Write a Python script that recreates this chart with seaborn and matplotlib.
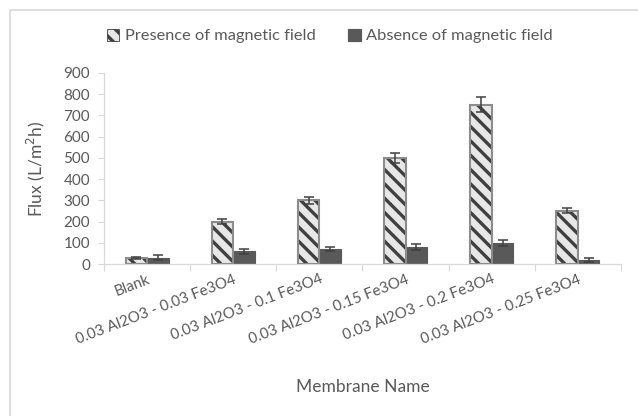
import matplotlib
matplotlib.use("Agg")
import matplotlib.pyplot as plt
from matplotlib.patches import Patch, Rectangle
import seaborn as sns
import pandas as pd
import numpy as np

# Membrane flux data
membranes = ["Blank",
             "0.03 Al2O3 - 0.03 Fe3O4",
             "0.03 Al2O3 - 0.1 Fe3O4",
             "0.03 Al2O3 - 0.15 Fe3O4",
             "0.03 Al2O3 - 0.2 Fe3O4",
             "0.03 Al2O3 - 0.25 Fe3O4"]
series_names = ["Presence of magnetic field", "Absence of magnetic field"]
presence = [27, 200, 300, 500, 750, 250]
presence_err = [5, 10, 15, 22, 35, 12]
absence = [30, 60, 70, 80, 100, 20]
absence_err = [12, 12, 10, 12, 14, 10]
y_ticks = [0, 100, 200, 300, 400, 500, 600, 700, 800, 900]

df = pd.DataFrame({
    "Membrane": membranes * 2,
    "Series": [series_names[0]] * len(membranes) + [series_names[1]] * len(membranes),
    "Flux": presence + absence,
})

# rendering at 86 dpi makes the hatch stripes a little tighter;
# S keeps point-based sizes equivalent to a 100 dpi layout
DPI = 86
S = 100 / DPI

sns.set_theme(style="white")
plt.rcParams["font.family"] = ["Lato", "DejaVu Sans"]
plt.rcParams["hatch.linewidth"] = 2.4 * S

TXT = "#595959"
AXIS = "#d9d9d9"
LIGHT = "#e7e7e7"
DARK = "#595959"
STRIPE = "#404040"
EDGE = "#8c8c8c"

fig = plt.figure(figsize=(638 / DPI, 416 / DPI), dpi=DPI)
ax = fig.add_axes([104 / 638, 1 - 264 / 416, (621 - 104) / 638, (264 - 73) / 416])

sns.barplot(data=df, x="Membrane", y="Flux", hue="Series", order=membranes,
            hue_order=series_names, palette=[LIGHT, DARK], width=0.5, gap=0,
            errorbar=None, legend=False, ax=ax, saturation=1)

pres_bars = ax.containers[0]
abs_bars = ax.containers[1]
for bar in pres_bars:
    bar.set_hatch("\\\\")
    bar.set_edgecolor(STRIPE)
    bar.set_linewidth(0)
    ax.add_patch(Rectangle((bar.get_x(), 0), bar.get_width(), bar.get_height(),
                           fill=False, edgecolor=EDGE, linewidth=1.5 * S, zorder=3))
for bar in abs_bars:
    bar.set_edgecolor(DARK)
    bar.set_linewidth(0.8 * S)

# error bars at the bar centres
for bars, vals, errs in [(pres_bars, presence, presence_err), (abs_bars, absence, absence_err)]:
    xs = [b.get_x() + b.get_width() / 2 for b in bars]
    ax.errorbar(xs, vals, yerr=errs, fmt="none", ecolor=STRIPE, elinewidth=1.1 * S,
                capsize=3.5 * S, capthick=1.1 * S, zorder=4)

ax.set_ylim(0, 900)
ax.set_xlim(-0.5, len(membranes) - 0.5)
ax.set_yticks(y_ticks)
ax.set_yticklabels([str(t) for t in y_ticks], color=TXT, fontsize=11 * S)
ax.set_xticks(range(len(membranes)))
ax.set_xticklabels(membranes, rotation=21, ha="right", rotation_mode="anchor",
                   color=TXT, fontsize=10.8 * S)
ax.tick_params(axis="x", length=0, pad=6 * S)
ax.tick_params(axis="y", length=4 * S, color=AXIS, width=0.8 * S, pad=6 * S, left=True)
ax.set_xticks(np.arange(-0.5, len(membranes), 1.0), minor=True)
ax.tick_params(axis="x", which="minor", length=5 * S, color=AXIS, width=0.8 * S, bottom=True)

for s in ["top", "right"]:
    ax.spines[s].set_visible(False)
for s in ["left", "bottom"]:
    ax.spines[s].set_color(AXIS)
    ax.spines[s].set_linewidth(0.9 * S)

ax.set_xlabel("Membrane Name", color=TXT, fontsize=12.5 * S)
ax.set_ylabel("Flux (L/m$^2$h)", color=TXT, fontsize=12.5 * S)
ax.xaxis.set_label_coords(0.5, -0.60)
ax.yaxis.set_label_coords(-57 / 517, 0.5)

handles = [Patch(facecolor=LIGHT, edgecolor=STRIPE, hatch="\\\\", linewidth=0.6 * S),
           Patch(facecolor=DARK, edgecolor=DARK)]
fig.legend(handles, series_names, loc="center", bbox_to_anchor=(330 / 638, 1 - 36 / 416),
           ncol=2, frameon=False, fontsize=11.8 * S, labelcolor=TXT, handlelength=0.75,
           handleheight=0.75, handletextpad=0.35, columnspacing=2.0)

# chart area border
fig.patches.append(Rectangle((10 / 638, -0.1), 1.2, 1 - 10 / 416 + 0.1,
                             transform=fig.transFigure, fill=False,
                             edgecolor="#d9d9d9", linewidth=1.2 * S))

fig.savefig("out.png", dpi=DPI, facecolor="white")
